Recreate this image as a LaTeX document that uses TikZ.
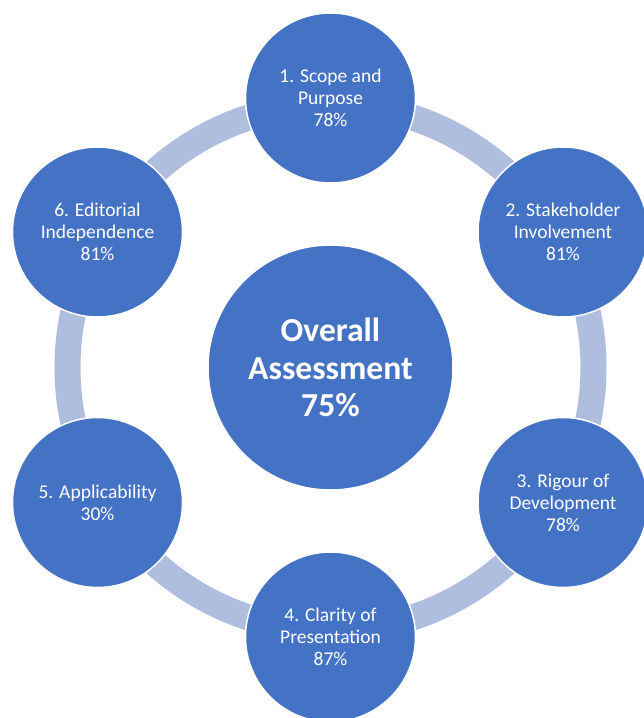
\documentclass[tikz,border=0pt]{standalone}
\usepackage{fontspec}
\setmainfont{Carlito}
\definecolor{nodeblue}{HTML}{4472C4}
\definecolor{ringblue}{HTML}{AFBDDF}
\begin{document}
\begin{tikzpicture}[x=1pt,y=-1pt,
  outer/.style={circle,minimum size=170pt,inner sep=0pt,fill=nodeblue,draw=white,line width=1.5pt,
    text=white,align=center,font=\fontsize{19.5}{22}\selectfont},
  centre/.style={circle,minimum size=245pt,inner sep=0pt,fill=nodeblue,draw=white,line width=1.5pt,
    text=white,align=center,font=\bfseries\fontsize{33.6}{37.5}\selectfont},
  ring/.style={draw=ringblue,line width=26pt}]
\useasboundingbox (0,0) rectangle (644,718);
\fill[white] (0,0) rectangle (644,718);
\coordinate (o) at (330.5,367.5);
\draw[ring] (o) circle (263pt);
\node[centre] (c) at (o) {Overall\\Assessment\\75\%};
\node[outer] (n1) at (330.5,98) {1. Scope and\\Purpose\\78\%};
\node[outer] (n2) at (563,232) {2. Stakeholder\\Involvement\\81\%};
\node[outer] (n3) at (563,502.5) {3. Rigour of\\Development\\78\%};
\node[outer] (n4) at (330.5,637) {4. Clarity of\\Presentation\\87\%};
\node[outer] (n5) at (97.5,502.5) {5. Applicability\\30\%};
\node[outer] (n6) at (97.5,232) {6. Editorial\\Independence\\81\%};
\end{tikzpicture}
\end{document}
